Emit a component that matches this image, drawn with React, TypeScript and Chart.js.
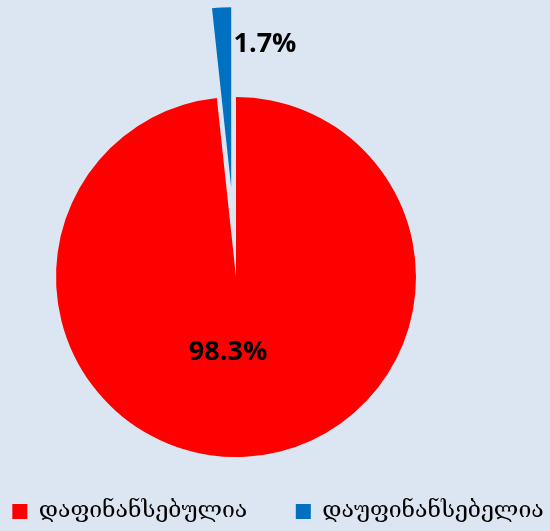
import React, { useEffect, useRef } from 'react';
import { Chart, registerables } from 'chart.js';

Chart.register(...registerables);

// ---- data ----
const categories = ['დაფინანსებულია', 'დაუფინანსებელია'];
const shares = [98.3, 1.7];
const sliceColors = ['#FF0000', '#0070C0'];

// ---- layout / style settings ----
const BACKGROUND = '#DCE6F2';
const plotArea = { left: 56, top: 97, right: 416, bottom: 457 };
const explodedSlice = { index: 1, distance: 90 };
const labelPlacement = [
  { radius: 0.42, align: 'center' as CanvasTextAlign, dx: -12, dy: 0 },
  { radius: 0.8, align: 'left' as CanvasTextAlign, dx: 10, dy: 1 },
];

const plotAreaPlugin = {
  id: 'plotArea',
  afterLayout(chart: any) {
    const a = chart.chartArea;
    a.left = plotArea.left;
    a.top = plotArea.top;
    a.right = plotArea.right;
    a.bottom = plotArea.bottom;
    a.width = a.right - a.left;
    a.height = a.bottom - a.top;
  },
};

const explodePlugin = {
  id: 'explodeSlice',
  beforeDatasetDraw(_chart: any, args: any) {
    args.meta.data.forEach((arc: any, i: number) => {
      if (i !== explodedSlice.index || arc.$exploded) return;
      const baseDraw = arc.draw.bind(arc);
      arc.draw = (ctx: CanvasRenderingContext2D, area: any) => {
        const mid = (arc.startAngle + arc.endAngle) / 2;
        ctx.save();
        ctx.translate(Math.cos(mid) * explodedSlice.distance, Math.sin(mid) * explodedSlice.distance);
        baseDraw(ctx, area);
        ctx.restore();
      };
      arc.$exploded = true;
    });
  },
};

const valueLabelPlugin = {
  id: 'valueLabels',
  afterDatasetsDraw(chart: any) {
    const ctx: CanvasRenderingContext2D = chart.ctx;
    const meta = chart.getDatasetMeta(0);
    ctx.save();
    ctx.font = 'bold 27px "Open Sans"';
    ctx.fillStyle = '#000000';
    ctx.textBaseline = 'middle';
    meta.data.forEach((arc: any, i: number) => {
      const { x, y, startAngle, endAngle, outerRadius } = arc.getProps(
        ['x', 'y', 'startAngle', 'endAngle', 'outerRadius'],
        true
      );
      const mid = (startAngle + endAngle) / 2;
      const p = labelPlacement[i];
      const shift = i === explodedSlice.index ? explodedSlice.distance : 0;
      const r = shift + outerRadius * p.radius;
      ctx.textAlign = p.align;
      ctx.fillText(
        `${shares[i].toFixed(1)}%`,
        x + Math.cos(mid) * r + p.dx,
        y + Math.sin(mid) * r + p.dy
      );
    });
    ctx.restore();
  },
};

export default function App() {
  const canvasRef = useRef<HTMLCanvasElement | null>(null);

  useEffect(() => {
    if (!canvasRef.current) return;
    const chart = new Chart(canvasRef.current, {
      type: 'pie',
      data: {
        labels: categories,
        datasets: [
          {
            data: shares,
            backgroundColor: sliceColors,
            borderWidth: 0,
            clip: false,
          } as any,
        ],
      },
      options: {
        responsive: false,
        animation: false,
        layout: { padding: { top: 0, bottom: -2, left: -60, right: -66 } },
        plugins: {
          legend: {
            position: 'bottom',
            labels: {
              boxWidth: 15,
              boxHeight: 15,
              padding: 48.5,
              color: '#000000',
              font: { family: '"DejaVu Serif", "DejaVu Sans"', size: 23 },
            },
          },
          tooltip: { enabled: false },
        },
      } as any,
      plugins: [plotAreaPlugin, explodePlugin, valueLabelPlugin],
    });
    return () => chart.destroy();
  }, []);

  return (
    <div
      style={{
        position: 'fixed',
        left: 0,
        top: 0,
        width: 550,
        height: 531,
        background: BACKGROUND,
      }}
    >
      <canvas ref={canvasRef} width={550} height={531} style={{ display: 'block' }} />
    </div>
  );
}
